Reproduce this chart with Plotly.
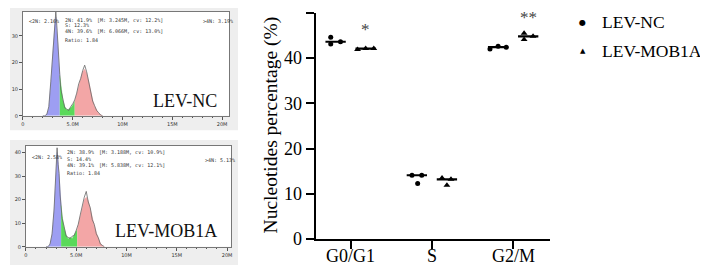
import numpy as np
import plotly.graph_objects as go

W, H = 708, 269

# ---------------- scatter (dot plot) data ----------------
phases = ["G0/G1", "S", "G2/M"]
nc_values = [[44.6, 43.1, 43.6], [14.1, 14.1, 12.3], [42.0, 42.6, 42.4]]
mob_values = [[41.9, 42.1, 42.1], [13.5, 11.9, 13.2], [45.5, 44.1, 44.8]]
series_names = ["LEV-NC", "LEV-MOB1A"]
legend_glyphs = ["●", "▲"]
sig_labels = ["*", "", "**"]          # significance marks above LEV-MOB1A
sig_heights = [46.3, None, 49.0]
yticks = [0, 10, 20, 30, 40, 50]

# ---------------- flow histogram data (DNA content, M) ----------------
nc_x = [2.0, 2.2, 2.4, 2.6, 2.8, 3.0, 3.2, 3.3, 3.4, 3.5, 3.6, 3.7, 3.8, 4.0, 4.2, 4.4, 4.6, 4.8,
        5.0, 5.2, 5.4, 5.6, 5.8, 6.0, 6.2, 6.4, 6.6, 6.8, 7.0, 7.2, 7.4, 7.6, 7.8, 8.0]
nc_fit = [0, 0, 0.5, 3, 12, 24, 34, 37, 33, 27, 20, 15, 11, 6, 3.5, 2.2, 2.5, 3,
          4, 5.5, 8, 11, 14, 16.5, 17.5, 16, 13, 9, 6, 3.5, 2, 1, 0.4, 0]
nc_outline = [0, 0, 0.6, 3.5, 13, 25, 36, 39, 34, 26, 21, 15.5, 10, 6.5, 3, 2.5, 2, 3.5,
              4.5, 6, 8.5, 12, 14, 17, 19, 16.5, 12.5, 9.5, 5.5, 3.8, 2, 1.2, 0.3, 0]
nc_bounds = [3.7, 5.2]

mob_x = [2.0, 2.2, 2.4, 2.6, 2.8, 3.0, 3.1, 3.2, 3.3, 3.4, 3.5, 3.6, 3.8, 4.0, 4.2, 4.4, 4.6,
         4.8, 5.0, 5.1, 5.2, 5.4, 5.6, 5.8, 6.0, 6.2, 6.4, 6.6, 6.8, 7.0, 7.2, 7.4, 7.6, 7.8]
mob_fit = [0, 0, 1, 5, 15, 32, 40, 36, 30, 23, 17.5, 13, 8, 5, 3.3, 4, 3.5,
           5, 6.5, 7.3, 9, 13, 17, 20, 21, 19.5, 16, 12, 9, 6, 3.5, 1.5, 0.5, 0]
mob_outline = [0, 0, 1.2, 5.5, 16, 33, 42, 35, 31, 22, 18, 12, 8.5, 4.5, 4, 3.5, 4.5,
               4.8, 7, 8, 9.5, 13.5, 18, 21, 23.5, 19, 16.5, 11.5, 9.5, 5.5, 3.8, 1.2, 0.6, 0]
mob_bounds = [3.5, 5.1]

hist_xticks = [0, 5, 10, 15, 20]
hist_xticktext = ["0", "5.0M", "10M", "15M", "20M"]

nc_stats = [("<2N: 2.16%", 17, 14), ("2N: 41.9%", 53, 12), ("[M: 3.245M, cv: 12.2%]", 85, 12),
            ("S: 12.3%", 53, 18), ("4N: 39.6%", 53, 24), ("[M: 6.066M, cv: 13.0%]", 85, 24),
            ("Ratio: 1.84", 53, 33), (">4N: 3.19%", 192, 14)]
mob_stats = [("<2N: 2.58%", 20, 155), ("2N: 38.9%", 55, 150), ("[M: 3.188M, cv: 10.9%]", 87, 150),
             ("S: 14.4%", 55, 157), ("4N: 39.1%", 55, 163), ("[M: 5.838M, cv: 12.1%]", 87, 163),
             ("Ratio: 1.84", 55, 171), (">4N: 5.13%", 194, 158)]

# ---------------- styling / placement ----------------
group_off = [-0.185, 0.185]
jit_nc = [[-0.06, -0.06, 0.06], [-0.06, 0.06, 0.01], [-0.10, 0.0, 0.10]]
jit_mob = [[-0.10, 0.0, 0.10], [-0.06, 0.0, 0.05], [-0.05, -0.05, 0.06]]
half_w = 0.125
SERIF = "Liberation Serif, Times New Roman, serif"
BLUE, GREEN, RED = "#9d9ef2", "#5ad95a", "#f3a6a6"
legend_rows_px = [15, 45]
legend_glyph_sizes = [8, 7]


def px(x):
    return x / W


def py(y):
    return 1 - y / H


fig = go.Figure()

# dot plot traces
for si, (vals, jit, sym, size) in enumerate([(nc_values, jit_nc, "circle", 5),
                                             (mob_values, jit_mob, "triangle-up", 6)]):
    xs, ys, lx, ly = [], [], [], []
    for ci in range(len(phases)):
        c = ci + group_off[si]
        for v, j in zip(vals[ci], jit[ci]):
            xs.append(c + j)
            ys.append(v)
        med = float(np.median(vals[ci]))
        lx += [c - half_w, c + half_w, None]
        ly += [med, med, None]
    fig.add_trace(go.Scatter(x=lx, y=ly, mode="lines", line=dict(color="black", width=2.2),
                             showlegend=False, hoverinfo="skip", xaxis="x", yaxis="y"))
    fig.add_trace(go.Scatter(x=xs, y=ys, mode="markers", name=series_names[si],
                             marker=dict(symbol=sym, size=size, color="black"),
                             showlegend=False, xaxis="x", yaxis="y"))

# legend (key glyph + name)
for name, glyph, gsize, ry in zip(series_names, legend_glyphs, legend_glyph_sizes, legend_rows_px):
    fig.add_annotation(x=px(575), y=py(ry), xref="paper", yref="paper", text=glyph,
                       showarrow=False, xanchor="center", yanchor="middle",
                       font=dict(family="DejaVu Sans", size=gsize, color="black"))
    fig.add_annotation(x=px(593), y=py(ry), xref="paper", yref="paper", text=name,
                       showarrow=False, xanchor="left", yanchor="middle",
                       font=dict(family=SERIF, size=17.5, color="black"))

for ci, (lab, hy) in enumerate(zip(sig_labels, sig_heights)):
    if lab:
        fig.add_annotation(x=ci + group_off[1], y=hy, xref="x", yref="y", text=lab,
                           showarrow=False, font=dict(family=SERIF, size=17, color="#444"))

# x tick labels of the dot plot (placed just under the ticks)
for ci, lab in enumerate(phases):
    fig.add_annotation(x=ci, y=py(258), xref="x", yref="paper", text=lab, showarrow=False,
                       xanchor="center", yanchor="middle",
                       font=dict(family=SERIF, size=18, color="black"))


# histogram traces
def add_hist(xv, fit, outline, bounds, xa, ya):
    b1, b2 = bounds
    segs = [(BLUE, lambda v: v <= b1), (GREEN, lambda v: b1 <= v <= b2), (RED, lambda v: v >= b2)]
    for col, cond in segs:
        sx = [v for v in xv if cond(v)]
        sy = [f for v, f in zip(xv, fit) if cond(v)]
        fig.add_trace(go.Scatter(x=sx, y=sy, mode="lines", fill="tozeroy", fillcolor=col,
                                 line=dict(width=0.5, color=col), showlegend=False,
                                 hoverinfo="skip", xaxis=xa, yaxis=ya))
    fig.add_trace(go.Scatter(x=xv, y=outline, mode="lines", line=dict(color="#666", width=0.8),
                             showlegend=False, hoverinfo="skip", xaxis=xa, yaxis=ya))


add_hist(nc_x, nc_fit, nc_outline, nc_bounds, "x2", "y2")
add_hist(mob_x, mob_fit, mob_outline, mob_bounds, "x3", "y3")

# backgrounds for histogram panels
shapes = [
    dict(type="rect", xref="paper", yref="paper", x0=px(0), x1=px(229), y0=py(127), y1=py(0),
         fillcolor="#eeeeee", line=dict(width=0), layer="below"),
    dict(type="rect", xref="paper", yref="paper", x0=px(0), x1=px(229), y0=py(267), y1=py(137),
         fillcolor="#eeeeee", line=dict(width=0), layer="below"),
    dict(type="rect", xref="paper", yref="paper", x0=px(13), x1=px(220), y0=py(112), y1=py(4),
         fillcolor="white", line=dict(width=0), layer="below"),
    dict(type="rect", xref="paper", yref="paper", x0=px(16), x1=px(222), y0=py(248), y1=py(143),
         fillcolor="white", line=dict(width=0), layer="below"),
]

for texts in (nc_stats, mob_stats):
    for t, x0, y0 in texts:
        fig.add_annotation(x=px(x0), y=py(y0), xref="paper", yref="paper", text=t,
                           showarrow=False, xanchor="left", yanchor="middle",
                           font=dict(family="DejaVu Sans Mono, monospace", size=5, color="#333"))

fig.add_annotation(x=px(210), y=py(97), xref="paper", yref="paper", text="LEV-NC",
                   showarrow=False, xanchor="right", yanchor="middle",
                   font=dict(family=SERIF, size=18, color="#111"))
fig.add_annotation(x=px(210), y=py(232), xref="paper", yref="paper", text="LEV-MOB1A",
                   showarrow=False, xanchor="right", yanchor="middle",
                   font=dict(family=SERIF, size=18, color="#111"))

# y title of dot plot
fig.add_annotation(x=px(262), y=py(121), xref="paper", yref="paper",
                   text="Nucleotides percentage (%)", textangle=-90, showarrow=False,
                   font=dict(family=SERIF, size=19.5, color="black"))

hist_axis_x = dict(tickvals=hist_xticks, ticktext=hist_xticktext, ticks="outside", ticklen=3,
                   tickwidth=0.6, tickcolor="#555", showline=True, linecolor="#777", linewidth=0.8,
                   mirror=True, showgrid=False, zeroline=False,
                   tickfont=dict(size=5, color="#333", family="DejaVu Sans"),
                   minor=dict(dtick=1, ticks="outside", ticklen=1.5, tickcolor="#555"))
hist_axis_y = dict(ticks="outside", ticklen=3, tickwidth=0.6, tickcolor="#555", showline=True,
                   linecolor="#777", linewidth=0.8, mirror=True, showgrid=False, zeroline=False,
                   tickfont=dict(size=5, color="#333", family="DejaVu Sans"), dtick=10)

fig.update_layout(
    width=W, height=H, margin=dict(l=0, r=0, t=0, b=0),
    paper_bgcolor="white", plot_bgcolor="rgba(0,0,0,0)",
    shapes=shapes, showlegend=False,
    xaxis=dict(domain=[px(307), px(542)], range=[-0.43, 2.45], tickvals=[0, 1, 2],
               showticklabels=False,
               showline=True, linecolor="black", linewidth=2, ticks="outside", ticklen=8,
               tickwidth=2, tickcolor="black", showgrid=False, zeroline=False, anchor="y"),
    yaxis=dict(domain=[py(240), py(5)], range=[0, 50], tickvals=yticks,
               showline=True, linecolor="black", linewidth=2, ticks="outside", ticklen=8,
               tickwidth=2, tickcolor="black", showgrid=False, zeroline=False,
               tickfont=dict(family=SERIF, size=18, color="black"), anchor="x"),
    xaxis2=dict(domain=[px(13), px(220)], range=[0, 20.7], anchor="y2", **hist_axis_x),
    yaxis2=dict(domain=[py(112), py(4)], range=[0, 39], anchor="x2", **hist_axis_y),
    xaxis3=dict(domain=[px(16), px(222)], range=[0, 20.4], anchor="y3", **hist_axis_x),
    yaxis3=dict(domain=[py(248), py(143)], range=[0, 42.9], anchor="x3", **hist_axis_y),
)

fig.write_html("out.html")
